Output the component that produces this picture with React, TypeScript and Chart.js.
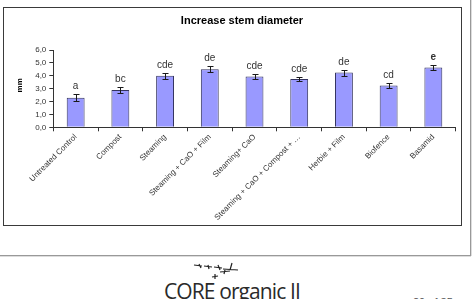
import React, { useEffect, useRef } from "react";
import { Chart, registerables } from "chart.js";

Chart.register(...registerables);

const categories = [
  "Untreated Control",
  "Compost",
  "Steaming",
  "Steaming + CaO + Film",
  "Steaming+ CaO",
  "Steaming + CaO + Compost + \u2026",
  "Herbie + Film",
  "Biofence",
  "Basamid",
];
const meanValues = [2.3, 2.9, 4.0, 4.5, 3.95, 3.75, 4.25, 3.25, 4.65];
const errorValues = [0.26, 0.23, 0.23, 0.22, 0.18, 0.19, 0.23, 0.2, 0.2];
const groupLetters = ["a", "bc", "cde", "de", "cde", "cde", "de", "cd", "e"];
const boldLetters = [false, false, false, false, false, false, false, false, true];
const yTickValues = [0, 1, 2, 3, 4, 5, 6];

const chartTitle = "Increase stem diameter";
const yAxisTitle = "mm";

const overlayPlugin = {
  id: "overlay",
  afterDatasetsDraw(chart: any) {
    const ctx = chart.ctx;
    const meta = chart.getDatasetMeta(0);
    const ys = chart.scales.y;
    ctx.save();
    meta.data.forEach((bar: any, i: number) => {
      const x = Math.round(bar.x) + 0.5;
      const top = Math.round(ys.getPixelForValue(meanValues[i] + errorValues[i])) + 0.5;
      const bot = Math.round(ys.getPixelForValue(meanValues[i] - errorValues[i])) + 0.5;
      ctx.strokeStyle = "#1a1a1a";
      ctx.lineWidth = 1;
      ctx.beginPath();
      ctx.moveTo(x, top);
      ctx.lineTo(x, bot);
      ctx.moveTo(x - 3, top);
      ctx.lineTo(x + 3, top);
      ctx.moveTo(x - 3, bot);
      ctx.lineTo(x + 3, bot);
      ctx.stroke();
      ctx.fillStyle = "#333";
      ctx.font = (boldLetters[i] ? "bold " : "") + "10px Arial, 'Liberation Sans', sans-serif";
      ctx.textAlign = "center";
      ctx.textBaseline = "alphabetic";
      ctx.fillText(groupLetters[i], bar.x, top - 6);
    });
    // title
    ctx.fillStyle = "#000";
    ctx.font = "bold 11px Arial, 'Liberation Sans', sans-serif";
    ctx.textAlign = "center";
    ctx.textBaseline = "middle";
    ctx.fillText(chartTitle, 238, 12.5);
    // y axis title
    ctx.translate(15.3, 77.3);
    ctx.rotate(-Math.PI / 2);
    ctx.font = "bold 8px Arial, 'Liberation Sans', sans-serif";
    ctx.fillText(yAxisTitle, 0, 0);
    ctx.restore();
  },
};

function BarChart() {
  const ref = useRef<HTMLCanvasElement | null>(null);
  useEffect(() => {
    if (!ref.current) return;
    const chart = new Chart(ref.current, {
      type: "bar",
      data: {
        labels: categories,
        datasets: [
          {
            data: meanValues,
            backgroundColor: "#9999ff",
            borderColor: "#33335f",
            borderWidth: 1,
            barPercentage: 0.4,
            categoryPercentage: 1,
          },
        ],
      },
      options: {
        animation: false,
        responsive: false,
        maintainAspectRatio: false,
        devicePixelRatio: 1,
        layout: { padding: { top: 42, right: 5.3, left: 0, bottom: 0 } },
        plugins: {
          legend: { display: false },
          title: { display: false },
          tooltip: { enabled: false },
        },
        scales: {
          x: {
            afterFit(scale: any) {
              scale.height = 97.7;
            },
            grid: {
              offset: true,
              drawOnChartArea: false,
              tickLength: 4,
              color: "#333",
            },
            border: { color: "#333", width: 1 },
            ticks: {
              autoSkip: false,
              maxRotation: 45,
              minRotation: 45,
              padding: 1,
              color: "#333",
              font: { family: "Arial, 'Liberation Sans', sans-serif", size: 8 },
            },
          },
          y: {
            min: 0,
            max: 6,
            afterFit(scale: any) {
              scale.width = 49.3;
            },
            afterBuildTicks(scale: any) {
              scale.ticks = yTickValues.map((v) => ({ value: v }));
            },
            grid: {
              drawOnChartArea: false,
              tickLength: 4,
              color: "#333",
            },
            border: { color: "#333", width: 1 },
            ticks: {
              padding: 3,
              color: "#333",
              font: { family: "Arial, 'Liberation Sans', sans-serif", size: 8 },
              callback: (v: any) => Number(v).toFixed(1).replace(".", ","),
            },
          },
        },
      },
      plugins: [overlayPlugin],
    });
    return () => chart.destroy();
  }, []);
  return (
    <canvas
      ref={ref}
      width={457}
      height={217}
      style={{ position: "absolute", left: 4, top: 8, width: 457, height: 217 }}
    />
  );
}

export default function App() {
  return (
    <div
      style={{
        position: "fixed",
        left: 0,
        top: 0,
        width: 473,
        height: 299,
        background: "#fff",
        overflow: "hidden",
      }}
    >
      <div
        style={{
          position: "absolute",
          left: 3,
          top: 7,
          width: 459,
          height: 219,
          border: "1px solid #3a3a3a",
          boxSizing: "border-box",
        }}
      />
      <BarChart />
      <div
        style={{
          position: "absolute",
          left: 0,
          top: 255,
          width: 471,
          height: 0,
          borderTop: "1px solid #999",
          borderBottom: "1px solid #ddd",
        }}
      />
      <div
        style={{
          position: "absolute",
          left: 470,
          top: 0,
          width: 0,
          height: 256,
          borderLeft: "1px solid #999",
          borderRight: "1px solid #ddd",
        }}
      />
      <svg
        style={{ position: "absolute", left: 192, top: 262, width: 50, height: 22 }}
        viewBox="0 0 50 22"
      >
        <g stroke="#222" strokeWidth="1.2" fill="#222">
          <path d="M2 3 L10 4 M7 2 L9 6" />
          <path d="M12 4 L20 5 M16 3 L17 7" />
          <path d="M22 5 L30 6 M26 3 L28 8" />
          <path d="M31 7 L46 8 M40 1 L38 8" />
          <path d="M28 10 L38 9 M33 8 L32 12" />
          <path d="M20 15 L26 14 M23 12 L23 17" />
        </g>
      </svg>
      <div
        style={{
          position: "absolute",
          left: 164,
          top: 278,
          fontFamily: "'Open Sans', sans-serif",
          fontSize: 21,
          lineHeight: "26px",
          color: "#2a2a2a",
          whiteSpace: "nowrap",
          letterSpacing: -0.9,
        }}
      >
        CORE organic II
      </div>
      <div
        style={{
          position: "absolute",
          left: 413,
          top: 296,
          fontFamily: "Arial, 'Liberation Sans', sans-serif",
          fontSize: 11,
          lineHeight: "12px",
          color: "#555",
          whiteSpace: "nowrap",
        }}
      >
        29 of 35
      </div>
    </div>
  );
}
